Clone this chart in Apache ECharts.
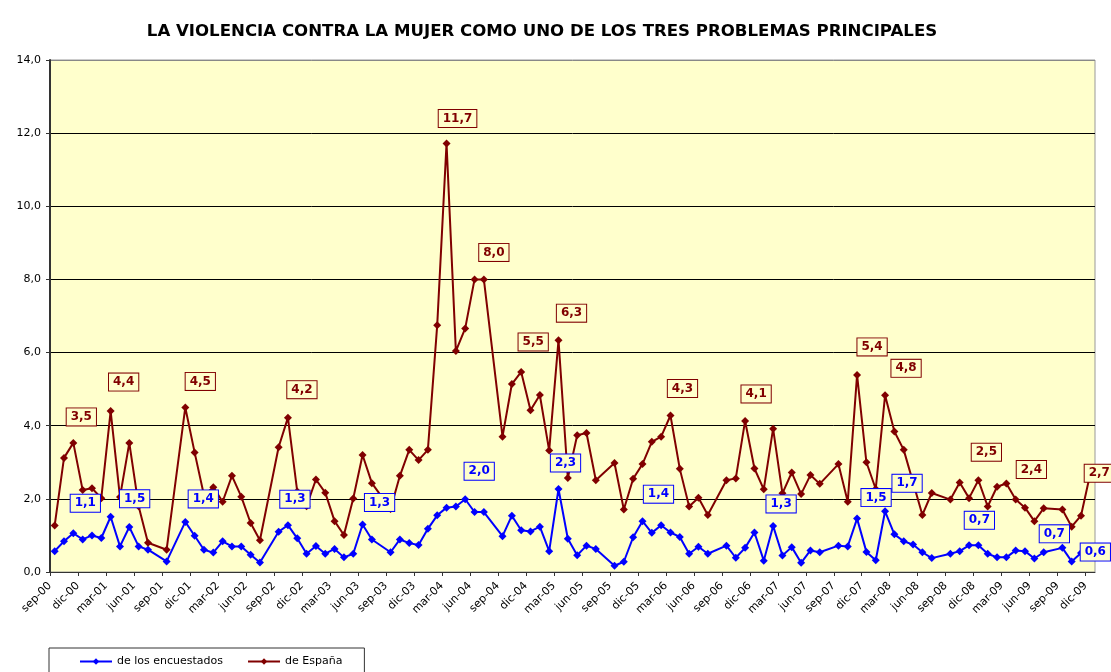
<!DOCTYPE html>
<html>
<head>
<meta charset="utf-8">
<title>La violencia contra la mujer</title>
<script src="https://cdn.jsdelivr.net/npm/echarts@6/dist/echarts.min.js"></script>
<style>
  html, body { margin: 0; padding: 0; background: #fff; }
  #chart { width: 1111px; height: 672px; }
</style>
</head>
<body>
<div id="chart"></div>
<script>
// meses en que hay barómetro (no hay agosto)
const fechas = [
  'sep-00','oct-00','nov-00','dic-00','ene-01','feb-01','mar-01','abr-01','may-01','jun-01','jul-01','sep-01',
  'nov-01','dic-01','ene-02','feb-02','mar-02','abr-02','may-02','jun-02','jul-02','sep-02','oct-02','nov-02',
  'dic-02','ene-03','feb-03','mar-03','abr-03','may-03','jun-03','jul-03','sep-03','oct-03','nov-03','dic-03',
  'ene-04','feb-04','mar-04','abr-04','may-04','jun-04','jul-04','sep-04','oct-04','nov-04','dic-04','ene-05',
  'feb-05','mar-05','abr-05','may-05','jun-05','jul-05','sep-05','oct-05','nov-05','dic-05','ene-06','feb-06',
  'mar-06','abr-06','may-06','jun-06','jul-06','sep-06','oct-06','nov-06','dic-06','ene-07','feb-07','mar-07',
  'abr-07','may-07','jun-07','jul-07','sep-07','oct-07','nov-07','dic-07','ene-08','feb-08','mar-08','abr-08',
  'may-08','jun-08','jul-08','sep-08','oct-08','nov-08','dic-08','ene-09','feb-09','mar-09','abr-09','may-09',
  'jun-09','jul-09','sep-09','oct-09','nov-09','dic-09'
];

const encuestados = [
  0.57,0.84,1.06,0.89,1.00,0.93,1.51,0.70,1.23,0.70,0.61,0.29,
  1.37,0.99,0.61,0.53,0.84,0.70,0.70,0.47,0.26,1.10,1.28,0.92,
  0.50,0.71,0.50,0.63,0.40,0.50,1.30,0.89,0.54,0.89,0.79,0.74,
  1.18,1.55,1.76,1.79,1.99,1.64,1.64,0.98,1.54,1.14,1.11,1.24,
  0.57,2.27,0.91,0.46,0.72,0.63,0.17,0.28,0.95,1.39,1.07,1.28,
  1.08,0.96,0.50,0.69,0.50,0.72,0.39,0.66,1.08,0.31,1.26,0.45,
  0.68,0.25,0.59,0.54,0.72,0.70,1.46,0.55,0.32,1.66,1.03,0.84,
  0.75,0.54,0.38,0.50,0.57,0.73,0.73,0.50,0.40,0.40,0.59,0.57,
  0.37,0.54,0.66,0.29,0.52,0.60
];

const espana = [
  1.27,3.12,3.53,2.24,2.29,2.02,4.40,2.05,3.53,1.80,0.80,0.61,
  4.50,3.27,2.10,2.32,1.92,2.63,2.06,1.34,0.87,3.41,4.22,2.20,
  1.80,2.53,2.17,1.39,1.01,2.01,3.20,2.43,1.72,2.63,3.34,3.06,
  3.34,6.75,11.72,6.04,6.66,8.00,8.00,3.70,5.14,5.47,4.42,4.84,
  3.32,6.34,2.57,3.74,3.80,2.51,2.98,1.71,2.55,2.95,3.56,3.70,
  4.28,2.82,1.79,2.03,1.56,2.51,2.56,4.13,2.83,2.26,3.92,2.15,
  2.72,2.13,2.65,2.41,2.95,1.92,5.39,3.00,2.27,4.83,3.84,3.34,
  2.45,1.56,2.16,1.98,2.45,2.02,2.51,1.79,2.33,2.42,1.98,1.76,
  1.39,1.74,1.71,1.24,1.54,2.70
];

// rótulos del eje x, uno cada tres meses
const etiquetasEje = [
  'sep-00','dic-00','mar-01','jun-01','sep-01','dic-01','mar-02','jun-02','sep-02','dic-02',
  'mar-03','jun-03','sep-03','dic-03','mar-04','jun-04','sep-04','dic-04','mar-05','jun-05',
  'sep-05','dic-05','mar-06','jun-06','sep-06','dic-06','mar-07','jun-07','sep-07','dic-07',
  'mar-08','jun-08','sep-08','dic-08','mar-09','jun-09','sep-09','dic-09'
];

// posición (desplazamiento en px) de los recuadros de valor
const rotulosEspana = {
  'nov-00': [8, -26], 'mar-01': [13, -29], 'nov-01': [15, -26], 'oct-02': [14, -28],
  'mar-04': [11, -25], 'jul-04': [10, -27], 'nov-04': [12, -30], 'mar-05': [13, -27],
  'mar-06': [12, -27], 'nov-06': [11, -27], 'nov-07': [15, -28], 'feb-08': [21, -27],
  'dic-08': [8, -28], 'mar-09': [25, -14], 'dic-09': [9, 0]
};
const rotulosEncuestados = {
  'nov-00': [12, -30], 'mar-01': [24, -18], 'nov-01': [18, -23], 'oct-02': [7, -26],
  'jun-03': [17, -22], 'may-04': [14, -28], 'mar-05': [7, -26], 'dic-05': [16, -27],
  'feb-07': [8, -22], 'nov-07': [19, -21], 'feb-08': [22, -28], 'dic-08': [1, -25],
  'sep-09': [-8, -14], 'dic-09': [5, 2]
};

const MESES = ['ene','feb','mar','abr','may','jun','jul','ago','sep','oct','nov','dic'];
// meses transcurridos desde sep-00
function indiceMes(f) {
  const p = f.split('-');
  return (Number(p[1]) * 12 + MESES.indexOf(p[0])) - 8;
}
function coma(v) {
  return v.toFixed(1).replace('.', ',');
}
function serie(valores, rotulos) {
  return fechas.map((f, i) => {
    const item = { value: [indiceMes(f) + 0.5, valores[i]] };
    if (rotulos[f]) {
      item.label = { show: true, offset: rotulos[f] };
    }
    return item;
  });
}

const fuente = 'DejaVu Sans';
function estiloRotulo(color) {
  return {
    show: false,
    position: 'inside',
    formatter: p => coma(p.value[1]),
    color: color,
    fontFamily: fuente,
    fontWeight: 'bold',
    fontSize: 12,
    backgroundColor: '#FFFFCC',
    borderColor: color,
    borderWidth: 1,
    padding: [3, 4, 2, 4]
  };
}

const myChart = echarts.init(document.getElementById('chart'));
const option = {
  animation: false,
  title: {
    text: 'LA VIOLENCIA CONTRA LA MUJER COMO UNO DE LOS TRES PROBLEMAS PRINCIPALES',
    left: 537,
    textAlign: 'center',
    top: 18,
    textStyle: { fontFamily: fuente, fontWeight: 'bold', fontSize: 16.6, color: '#000' }
  },
  legend: {
    left: 49,
    top: 648,
    itemWidth: 32,
    itemHeight: 8,
    itemGap: 24,
    padding: [8, 22, 14, 30],
    borderColor: '#333',
    borderWidth: 1,
    textStyle: { fontFamily: fuente, fontSize: 11, color: '#000' },
    data: ['de los encuestados', 'de España']
  },
  grid: {
    left: 50,
    right: 16,
    top: 60,
    bottom: 100,
    containLabel: false,
    show: true,
    backgroundColor: '#FFFFCC',
    borderColor: '#999',
    borderWidth: 1
  },
  xAxis: {
    type: 'value',
    min: 0,
    max: 112,
    interval: 3,
    axisLine: { show: true, onZero: false, lineStyle: { color: '#333', width: 1 } },
    axisTick: { show: true, length: 4, lineStyle: { color: '#333' } },
    axisLabel: {
      rotate: 45,
      margin: 12,
      fontFamily: fuente,
      fontSize: 11,
      color: '#000',
      showMaxLabel: false,
      formatter: v => (v % 3 === 0 && etiquetasEje[v / 3]) || ''
    },
    splitLine: { show: false }
  },
  yAxis: {
    type: 'value',
    min: 0,
    max: 14,
    interval: 2,
    axisLine: { show: true, lineStyle: { color: '#333', width: 2 } },
    axisTick: { show: true, length: 4, lineStyle: { color: '#333' } },
    axisLabel: {
      margin: 9,
      fontFamily: fuente,
      fontSize: 11,
      color: '#000',
      formatter: v => coma(v)
    },
    splitLine: {
      show: true,
      lineStyle: { color: ['#000', '#000', '#000', '#000', '#000', '#000', '#000', '#888'], width: 1 }
    }
  },
  series: [
    {
      name: 'de los encuestados',
      type: 'line',
      symbol: 'diamond',
      symbolSize: 8,
      color: '#0000FF',
      lineStyle: { width: 2 },
      label: estiloRotulo('#0000FF'),
      data: serie(encuestados, rotulosEncuestados)
    },
    {
      name: 'de España',
      type: 'line',
      symbol: 'diamond',
      symbolSize: 8,
      color: '#800000',
      lineStyle: { width: 2 },
      label: estiloRotulo('#800000'),
      data: serie(espana, rotulosEspana)
    }
  ]
};
myChart.setOption(option);
</script>
</body>
</html>
